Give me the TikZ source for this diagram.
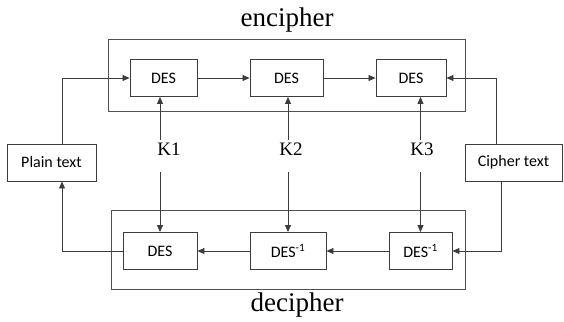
\documentclass[tikz,border=0pt]{standalone}
\usepackage{fontspec}
\setmainfont{Liberation Serif}
\newfontfamily\boxfont{Carlito}
\usetikzlibrary{arrows.meta}
\definecolor{linegray}{HTML}{3C3C3C}
\tikzset{
  desbox/.style={draw=linegray, line width=0.9pt, minimum height=37pt, inner sep=0pt,
    font=\boxfont\fontsize{16}{16}\selectfont, text=black},
  arr/.style={draw=linegray, line width=0.8pt, -{Triangle[length=7pt,width=6pt]}},
  frame/.style={draw=linegray!90, line width=0.9pt},
  keylabel/.style={font=\fontsize{19}{19}\selectfont, inner xsep=0pt, inner ysep=2pt,
    text height=13pt, text depth=15pt, anchor=north},
  title/.style={font=\fontsize{27}{27}\selectfont, anchor=base}
}
\begin{document}
\begin{tikzpicture}[x=1pt, y=-1pt]
\useasboundingbox (0,0) rectangle (564,321);

% frames
\draw[frame] (108,39) rectangle (465,111);
\draw[frame] (111,210) rectangle (465,289);
\node[title] (enc) at (287,27) {encipher};
\node[title] (dec) at (297,311) {decipher};

% encipher row
\node[desbox, minimum width=67pt] (e1) at (163.5,78) {DES};
\node[desbox, minimum width=73pt] (e2) at (286.5,78) {DES};
\node[desbox, minimum width=70pt] (e3) at (411,78) {DES};

% decipher row
\node[desbox, minimum width=74pt] (d1) at (160,251) {DES};
\node[desbox, minimum width=76pt] (d2) at (288,251) {DES\textsuperscript{-1}};
\node[desbox, minimum width=63pt] (d3) at (420.5,251) {DES\textsuperscript{-1}};

% plain and cipher text
\node[desbox, minimum width=89pt] (plain) at (51.5,162.5) {Plain text};
\node[desbox, minimum width=97pt] (cipher) at (513.5,162.5) {Cipher text};

% data flow
\draw[arr] ([xshift=10.5pt]plain.north) |- (e1);
\draw[arr] (e1) -- (e2);
\draw[arr] (e2) -- (e3);
\draw[arr] ([xshift=-17.5pt]cipher.north) |- (e3);
\draw[arr] ([xshift=-12.5pt]cipher.south) |- (d3);
\draw[arr] (d3) -- (d2);
\draw[arr] (d2) -- (d1);
\draw[arr] (d1) -| ([xshift=10.5pt]plain.south);

% keys
\foreach \i/\x in {1/169,2/291,3/422} {
  \node[keylabel] (k\i) at (\x,140) {K\i};
  \draw[arr] (k\i.north -| d\i) -- (e\i.south -| d\i);
  \draw[arr] (k\i.south -| d\i) -- (d\i);
}
\end{tikzpicture}
\end{document}
